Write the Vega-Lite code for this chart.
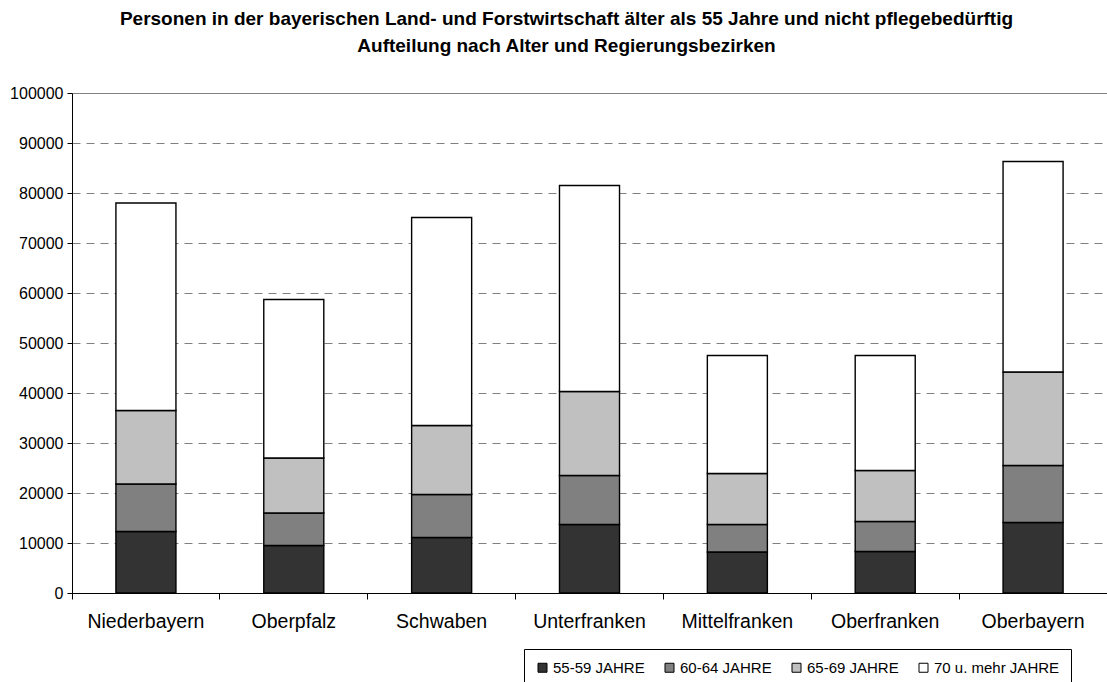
{
  "$schema": "https://vega.github.io/schema/vega-lite/v6.json",
  "autosize": {"type": "none"},
  "padding": {"left": 72, "top": 93, "right": 0, "bottom": 89},
  "width": 1035,
  "height": 500,
  "background": "white",
  "title": {
    "text": ["Personen in der bayerischen Land- und Forstwirtschaft älter als 55 Jahre und nicht pflegebedürftig", "Aufteilung nach Alter und Regierungsbezirken"],
    "font": "Liberation Sans",
    "fontSize": 19,
    "fontWeight": "bold",
    "color": "black",
    "anchor": "middle",
    "lineHeight": 27,
    "offset": 29,
    "dx": -23
  },
  "config": {
    "view": {"stroke": null},
    "font": "Liberation Sans",
    "axis": {"labelFont": "Liberation Sans", "labelColor": "black", "titleColor": "black"}
  },
  "data": {
    "values": [
      {"region": "Niederbayern", "age": "55-59 JAHRE", "value": 12300},
      {"region": "Niederbayern", "age": "60-64 JAHRE", "value": 9500},
      {"region": "Niederbayern", "age": "65-69 JAHRE", "value": 14700},
      {"region": "Niederbayern", "age": "70 u. mehr JAHRE", "value": 41500},
      {"region": "Oberpfalz", "age": "55-59 JAHRE", "value": 9500},
      {"region": "Oberpfalz", "age": "60-64 JAHRE", "value": 6500},
      {"region": "Oberpfalz", "age": "65-69 JAHRE", "value": 11000},
      {"region": "Oberpfalz", "age": "70 u. mehr JAHRE", "value": 31700},
      {"region": "Schwaben", "age": "55-59 JAHRE", "value": 11100},
      {"region": "Schwaben", "age": "60-64 JAHRE", "value": 8600},
      {"region": "Schwaben", "age": "65-69 JAHRE", "value": 13800},
      {"region": "Schwaben", "age": "70 u. mehr JAHRE", "value": 41600},
      {"region": "Unterfranken", "age": "55-59 JAHRE", "value": 13700},
      {"region": "Unterfranken", "age": "60-64 JAHRE", "value": 9800},
      {"region": "Unterfranken", "age": "65-69 JAHRE", "value": 16800},
      {"region": "Unterfranken", "age": "70 u. mehr JAHRE", "value": 41200},
      {"region": "Mittelfranken", "age": "55-59 JAHRE", "value": 8200},
      {"region": "Mittelfranken", "age": "60-64 JAHRE", "value": 5500},
      {"region": "Mittelfranken", "age": "65-69 JAHRE", "value": 10200},
      {"region": "Mittelfranken", "age": "70 u. mehr JAHRE", "value": 23600},
      {"region": "Oberfranken", "age": "55-59 JAHRE", "value": 8300},
      {"region": "Oberfranken", "age": "60-64 JAHRE", "value": 6000},
      {"region": "Oberfranken", "age": "65-69 JAHRE", "value": 10200},
      {"region": "Oberfranken", "age": "70 u. mehr JAHRE", "value": 23000},
      {"region": "Oberbayern", "age": "55-59 JAHRE", "value": 14100},
      {"region": "Oberbayern", "age": "60-64 JAHRE", "value": 11400},
      {"region": "Oberbayern", "age": "65-69 JAHRE", "value": 18700},
      {"region": "Oberbayern", "age": "70 u. mehr JAHRE", "value": 42100}
    ]
  },
  "mark": {"type": "bar", "stroke": "black", "strokeWidth": 1.4, "strokeOpacity": 1},
  "encoding": {
    "x": {
      "field": "region",
      "type": "nominal",
      "sort": null,
      "scale": {"paddingInner": 0.594, "paddingOuter": 0.297},
      "axis": {
        "title": null,
        "labelAngle": 0,
        "labelFontSize": 19.5,
        "labelPadding": 13,
        "bandPosition": -0.731,
        "ticks": true,
        "tickColor": "black",
        "tickWidth": 1,
        "tickSize": 6,
        "domainColor": "black",
        "domainWidth": 1,
        "grid": false
      }
    },
    "y": {
      "field": "value",
      "type": "quantitative",
      "stack": "zero",
      "scale": {"domain": [0, 100000], "nice": false},
      "axis": {
        "title": null,
        "values": [0, 10000, 20000, 30000, 40000, 50000, 60000, 70000, 80000, 90000, 100000],
        "format": "d",
        "labelFontSize": 16,
        "labelPadding": 4,
        "tickSize": 5,
        "tickColor": "black",
        "domainColor": "black",
        "grid": true,
        "gridColor": "#808080",
        "gridWidth": 1,
        "gridOpacity": 1,
        "gridDash": {"condition": {"test": "datum.value === 100000", "value": []}, "value": [8, 6]}
      }
    },
    "order": {"field": "age", "type": "ordinal", "sort": "ascending"},
    "color": {
      "field": "age",
      "type": "nominal",
      "scale": {
        "domain": ["55-59 JAHRE", "60-64 JAHRE", "65-69 JAHRE", "70 u. mehr JAHRE"],
        "range": ["#333333", "#808080", "#c0c0c0", "#ffffff"]
      },
      "legend": {
        "title": null,
        "orient": "none",
        "legendX": 452,
        "legendY": 556,
        "direction": "horizontal",
        "columns": 4,
        "columnPadding": 17,
        "padding": 11,
        "strokeColor": "black",
        "fillColor": "white",
        "symbolType": "square",
        "symbolSize": 81,
        "symbolStrokeColor": "black",
        "symbolStrokeWidth": 1,
        "symbolOpacity": 1,
        "labelFont": "Liberation Sans",
        "labelFontSize": 15,
        "labelColor": "black",
        "labelOffset": 3
      }
    }
  }
}
